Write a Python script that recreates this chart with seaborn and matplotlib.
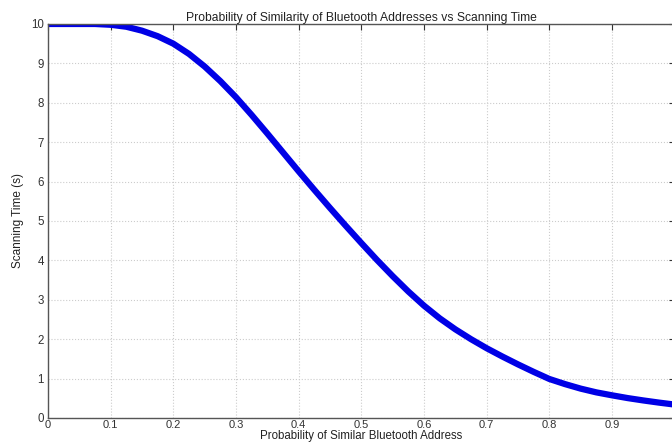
import numpy as np
import pandas as pd
import matplotlib
matplotlib.use('Agg')
import matplotlib.pyplot as plt
import seaborn as sns

# values
prob = [0.0, 0.025, 0.05, 0.075, 0.1, 0.125, 0.15, 0.175, 0.2, 0.225,
        0.25, 0.275, 0.3, 0.325, 0.35, 0.375, 0.4, 0.425, 0.45, 0.475,
        0.5, 0.525, 0.55, 0.575, 0.6, 0.625, 0.65, 0.675, 0.7, 0.725,
        0.75, 0.775, 0.8, 0.825, 0.85, 0.875, 0.9, 0.925, 0.95, 0.975, 1.0]
scan_time = [10.0, 10.0, 10.0, 10.0, 9.98, 9.93, 9.83, 9.69, 9.5, 9.24,
             8.92, 8.55, 8.14, 7.69, 7.22, 6.74, 6.26, 5.79, 5.33, 4.88,
             4.44, 4.01, 3.6, 3.21, 2.85, 2.53, 2.25, 2.0, 1.77, 1.56,
             1.36, 1.17, 0.99, 0.86, 0.745, 0.65, 0.575, 0.505, 0.445, 0.39, 0.34]
x_ticks = [0, 0.1, 0.2, 0.3, 0.4, 0.5, 0.6, 0.7, 0.8, 0.9]
y_ticks = list(range(0, 11))

df = pd.DataFrame({'prob': prob, 'time': scan_time})

sns.set_style('whitegrid', {
    'grid.linestyle': ':',
    'grid.color': '#c8c8c8',
    'axes.edgecolor': '#555555',
    'xtick.direction': 'in',
    'ytick.direction': 'in',
})
plt.rcParams['font.family'] = ['Liberation Sans', 'DejaVu Sans']

fig = plt.figure(figsize=(6.72, 4.44), dpi=100)
# axes from x=48 px, top at 24 px, bottom at 418 px
ax = fig.add_axes([0.0714, 0.0586, 0.9326, 0.8874])

sns.lineplot(data=df, x='prob', y='time', ax=ax, color='#0000e6', linewidth=4.5,
             solid_joinstyle='round', solid_capstyle='round')

ax.set_xlim(0, 1)
ax.set_ylim(0, 10)
ax.set_xticks(x_ticks)
ax.set_xticklabels([f'{t:g}' for t in x_ticks])
ax.set_yticks(y_ticks)
ax.tick_params(axis='both', labelsize=8.3, colors='#333333', length=4, width=0.8,
               top=True, right=True, pad=3)
ax.tick_params(axis='x', labelsize=8, pad=1.5)
ax.grid(True, linestyle=':', color='#cccccc', linewidth=0.8)
for s in ax.spines.values():
    s.set_linewidth(1.0)
    s.set_color('#555555')

ax.set_title('Probability of Similarity of Bluetooth Addresses vs Scanning Time',
             fontsize=8.7, color='#222222', pad=2)
ax.set_xlabel('Probability of Similar Bluetooth Address', fontsize=8.3,
              color='#222222', labelpad=0)
ax.set_ylabel('Scanning Time (s)', fontsize=8.5, color='#222222', labelpad=5)

fig.savefig('out.png', dpi=100)
